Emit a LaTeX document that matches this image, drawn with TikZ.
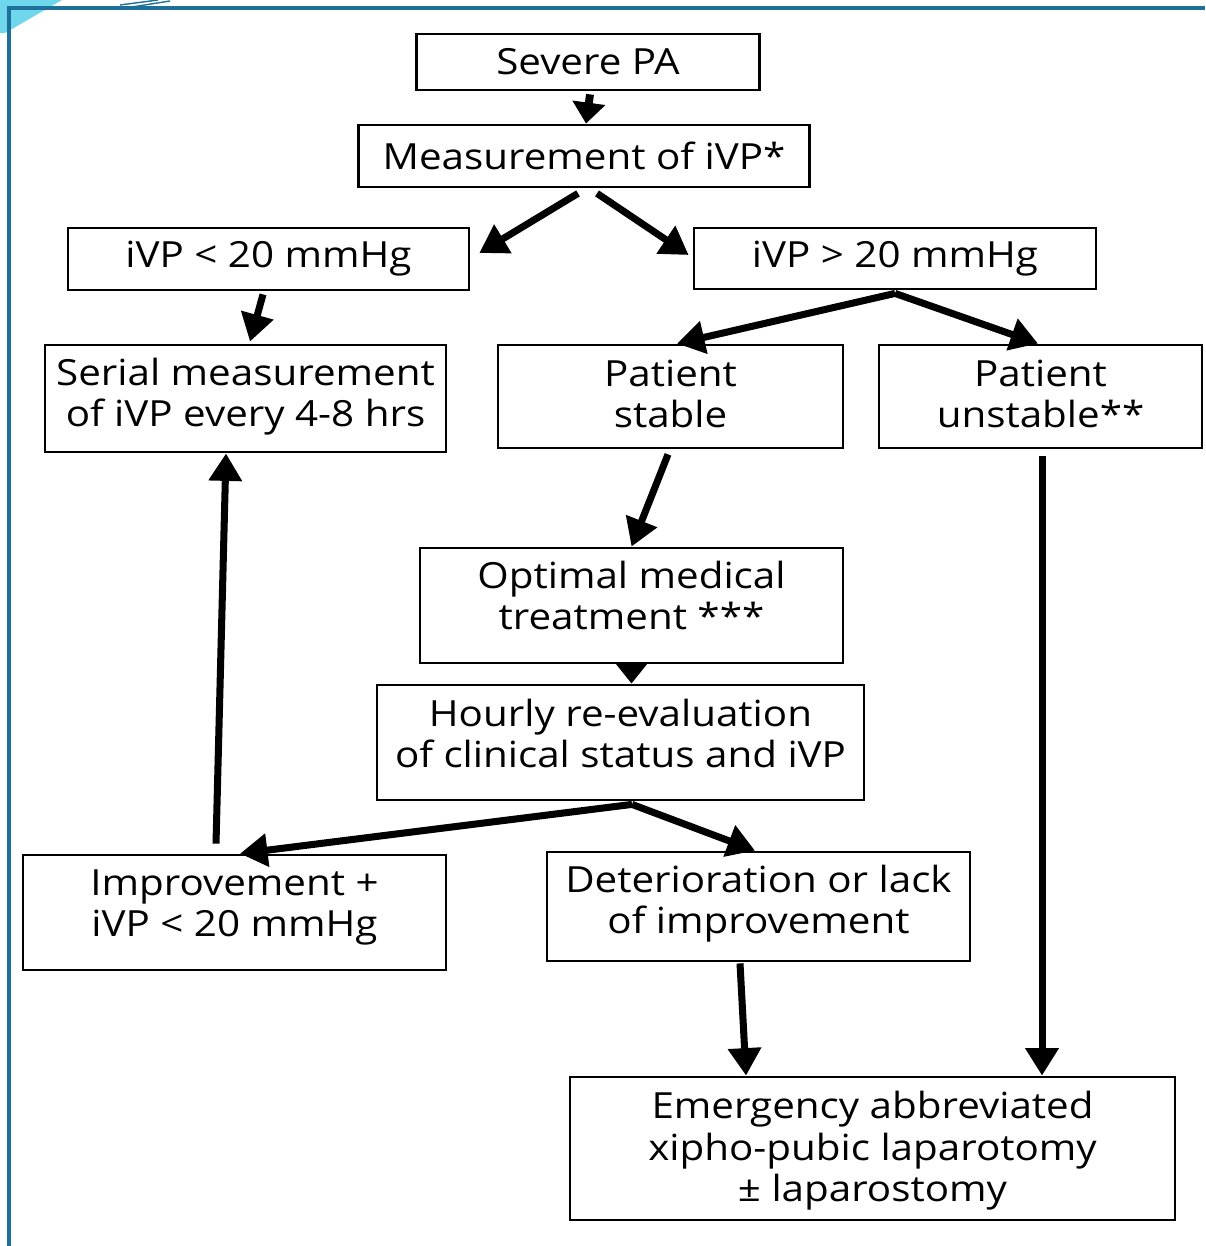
\documentclass[tikz,border=0pt]{standalone}
\usepackage{fontspec}
\setmainfont{Open Sans}[FakeStretch=1.12]
\usetikzlibrary{arrows.meta}
\definecolor{framebl}{RGB}{30,112,155}
\definecolor{slidecy}{RGB}{110,215,235}

\tikzset{
  box/.style={draw, line width=1.6pt, align=center, inner sep=0pt,
    font=\fontsize{20.5}{23.5}\selectfont},
  tdep/.style={text depth=#1},
  arr/.style={line width=4pt, -{Triangle[length=0.55cm,width=0.64cm]}},
  stub/.style={line width=4.5pt, -{Triangle[length=0.42cm,width=0.64cm]}}
}

\begin{document}
\begin{tikzpicture}[x=0.02cm,y=-0.02cm]
\path[fill=white] (0,0) rectangle (1205,1246);
\useasboundingbox (0,0) rectangle (1205,1246);
% slide frame
\fill[slidecy] (0,0) -- (62,0) -- (5,33) -- (0,33) -- cycle;
\draw[line width=0.8pt, framebl] (120,5) -- (158,0);
\draw[line width=0.8pt, framebl] (132,7) -- (170,1);
\draw[line width=1.8pt, framebl] (9,1246) -- (9,8) -- (1205,8);

\node[box, minimum width=6.86cm, minimum height=1.12cm] (sev) at (588,62) {Severe PA};
\node[box, minimum width=9.02cm, minimum height=1.24cm] (meas) at (584,156) {Measurement of iVP*};
\node[box, minimum width=8.02cm, minimum height=1.24cm] (low) at (268.5,259) {iVP < 20 mmHg};
\node[box, minimum width=8.04cm, minimum height=1.22cm] (high) at (895,258.5) {iVP > 20 mmHg};
\node[box, tdep=0.25cm, minimum width=8.02cm, minimum height=2.14cm] (serial) at (245.5,398.5) {Serial measurement\\of iVP every 4-8 hrs};
\node[box, tdep=0.12cm, minimum width=6.9cm, minimum height=2.06cm] (stable) at (670.5,396.5) {Patient\\stable};
\node[box, tdep=0.12cm, minimum width=6.46cm, minimum height=2.06cm] (unstable) at (1040.5,396.5) {Patient\\unstable**};
\node[box, tdep=0.4cm, minimum width=8.46cm, minimum height=2.3cm] (optimal) at (631.5,605.5) {Optimal medical\\treatment ***};
\node[box, tdep=0.38cm, minimum width=9.74cm, minimum height=2.3cm] (hourly) at (620.5,742.5) {Hourly re-evaluation\\of clinical status and iVP};
\node[box, tdep=0.37cm, minimum width=8.46cm, minimum height=2.3cm] (improve) at (234.5,912.5) {Improvement +\\iVP < 20 mmHg};
\node[box, tdep=0.29cm, minimum width=8.46cm, minimum height=2.18cm] (deter) at (758.5,906.5) {Deterioration or lack\\of improvement};
\node[box, tdep=0.08cm, minimum width=12.1cm, minimum height=2.86cm] (emerg) at (872.5,1148.5) {Emergency abbreviated\\xipho-pubic laparotomy\\± laparostomy};

\draw[stub] ([xshift=0.04cm,yshift=-0.06cm]sev.south) -- ([xshift=0.04cm]meas.north);
\draw[arr] ([xshift=-0.12cm,yshift=-0.1cm]meas.south) -- ([xshift=0.18cm,yshift=0.12cm]low.east);
\draw[arr] ([xshift=0.26cm,yshift=-0.1cm]meas.south) -- ([xshift=-0.08cm,yshift=0.07cm]high.west);
\draw[arr] ([xshift=-0.11cm,yshift=-0.06cm]low.south) -- ([xshift=0.09cm,yshift=0.04cm]serial.north);
\draw[arr] ([yshift=-0.06cm]high.south) -- ([xshift=0.13cm]stable.north);
\draw[arr] ([yshift=-0.06cm]high.south) -- ([xshift=-0.05cm]unstable.north);
\draw[arr] ([xshift=-0.05cm,yshift=-0.1cm]stable.south) -- (optimal.north);
\draw[arr] ([xshift=0.03cm,yshift=-0.14cm]unstable.south) -- ([xshift=0.03cm]unstable.south |- emerg.north);
\draw[stub] (optimal.south) -- (optimal.south |- hourly.north);
\draw[arr] ([xshift=0.23cm,yshift=-0.06cm]hourly.south) -- ([xshift=0.11cm]improve.north);
\draw[arr] ([xshift=0.23cm,yshift=-0.06cm]hourly.south) -- ([xshift=-0.07cm]deter.north);
\draw[arr] ([xshift=-0.37cm,yshift=0.2cm]improve.north) -- ([xshift=-0.39cm]serial.south);
\draw[arr] ([xshift=-0.37cm,yshift=-0.02cm]deter.south) -- ([xshift=-2.53cm]emerg.north);
\end{tikzpicture}
\end{document}
